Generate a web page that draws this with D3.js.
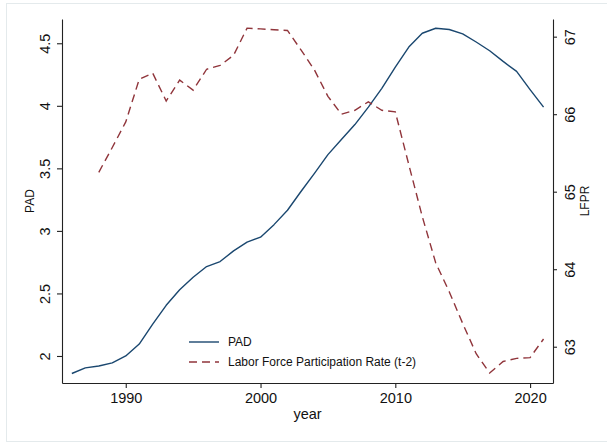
<!DOCTYPE html>
<html>
<head>
<meta charset="utf-8">
<script src="https://cdn.jsdelivr.net/npm/d3@7"></script>
<style>
  html, body { margin: 0; padding: 0; background: #fff; }
  svg { display: block; font-family: Arial, "Liberation Sans", Helvetica, sans-serif; }
</style>
</head>
<body>
<svg id="chart" width="607" height="443"></svg>
<script>
// Yearly series
const years = d3.range(1986, 2022);
const padValues = [
  1.86, 1.905, 1.92, 1.945, 2.0, 2.095, 2.255, 2.405, 2.53, 2.63,
  2.715, 2.755, 2.84, 2.91, 2.95, 3.05, 3.165, 3.315, 3.46, 3.61,
  3.73, 3.85, 3.99, 4.14, 4.31, 4.47, 4.58, 4.62, 4.61, 4.575,
  4.51, 4.44, 4.355, 4.275, 4.13, 3.99
];
// Labor force participation rate, lagged two years (first two years missing)
const lfprValues = [
  null, null, 65.25, 65.57, 65.9, 66.45, 66.53, 66.17, 66.44, 66.31,
  66.58, 66.63, 66.76, 67.11, 67.1, 67.09, 67.08, 66.83, 66.57, 66.23,
  66.0, 66.05, 66.16, 66.05, 66.03, 65.35, 64.68, 64.08, 63.71, 63.3,
  62.91, 62.66, 62.81, 62.85, 62.86, 63.1
];
const xTicks = [1990, 2000, 2010, 2020];
const padTicks = [2, 2.5, 3, 3.5, 4, 4.5];
const lfprTicks = [63, 64, 65, 66, 67];
const seriesNames = ["PAD", "Labor Force Participation Rate (t-2)"];

const navy = "#1a476f";
const maroon = "#90353b";
const axisColor = "#222";

const svg = d3.select("#chart");

const plotL = 62, plotR = 553, plotT = 19, plotB = 383;

const x = d3.scaleLinear().domain([1985.27, 2021.7]).range([plotL, plotR]);
const yPad = d3.scaleLinear().domain([1.784, 4.694]).range([plotB, plotT]);
const yLfpr = d3.scaleLinear().domain([62.532, 67.228]).range([plotB, plotT]);

// faint outer frame of the graph region
svg.append("rect")
  .attr("x", 6.5).attr("y", 3.5).attr("width", 620).attr("height", 438)
  .attr("fill", "none").attr("stroke", "#e4eaec").attr("stroke-width", 1);

// Axes
const xAxis = d3.axisBottom(x).tickValues(xTicks).tickFormat(d3.format("d"))
  .tickSize(5).tickSizeOuter(0).tickPadding(4);
const gx = svg.append("g").attr("transform", `translate(0,${plotB})`).call(xAxis);

const yAxisL = d3.axisLeft(yPad).tickValues(padTicks).tickFormat(d => String(d))
  .tickSize(5).tickSizeOuter(0);
const gyl = svg.append("g").attr("transform", `translate(${plotL},0)`).call(yAxisL);

const yAxisR = d3.axisRight(yLfpr).tickValues(lfprTicks).tickFormat(d3.format("d"))
  .tickSize(4).tickSizeOuter(0);
const gyr = svg.append("g").attr("transform", `translate(${plotR},0)`).call(yAxisR);

[gx, gyl, gyr].forEach(g => {
  g.select(".domain").attr("stroke", axisColor).attr("stroke-width", 1.1);
  g.selectAll(".tick line").attr("stroke", axisColor).attr("stroke-width", 1.1);
  g.selectAll(".tick text").attr("fill", "#111").attr("font-size", 14.5)
    .attr("font-family", "Arial, 'Liberation Sans', sans-serif");
});
gx.selectAll(".tick text").attr("dy", null).attr("y", 19.7);

// rotated y tick labels
gyl.selectAll(".tick text")
  .attr("x", null).attr("dy", null)
  .attr("text-anchor", "middle")
  .attr("transform", "translate(-12,0) rotate(-90)");
gyr.selectAll(".tick text")
  .attr("x", null).attr("dy", null)
  .attr("text-anchor", "middle")
  .attr("transform", "translate(22,0) rotate(-90)");

// Axis titles
svg.append("text").text("year")
  .attr("x", (plotL + plotR) / 2).attr("y", 419)
  .attr("text-anchor", "middle").attr("font-size", 14.5).attr("fill", "#111");
svg.append("text").text("PAD")
  .attr("transform", `translate(33.5,${(plotT + plotB) / 2}) rotate(-90)`)
  .attr("text-anchor", "middle").attr("font-size", 12).attr("fill", "#111");
svg.append("text").text("LFPR")
  .attr("transform", `translate(588.5,${(plotT + plotB) / 2}) rotate(-90)`)
  .attr("text-anchor", "middle").attr("font-size", 12).attr("fill", "#111");

// Lines
const padData = years.map((yr, i) => ({ yr, v: padValues[i] }));
const lfprData = years.map((yr, i) => ({ yr, v: lfprValues[i] }));

svg.append("path").datum(padData)
  .attr("fill", "none").attr("stroke", navy).attr("stroke-width", 1.4)
  .attr("stroke-linejoin", "round")
  .attr("d", d3.line().x(d => x(d.yr)).y(d => yPad(d.v)));

svg.append("path").datum(lfprData)
  .attr("fill", "none").attr("stroke", maroon).attr("stroke-width", 1.4)
  .attr("stroke-dasharray", "8,5")
  .attr("d", d3.line().defined(d => d.v != null).x(d => x(d.yr)).y(d => yLfpr(d.v)));

// Legend
const legend = svg.append("g");
const legendRows = [
  { name: seriesNames[0], color: navy, dash: null, y: 342 },
  { name: seriesNames[1], color: maroon, dash: "8,5", y: 362 }
];
legendRows.forEach(r => {
  legend.append("line")
    .attr("x1", 189).attr("x2", 219).attr("y1", r.y).attr("y2", r.y)
    .attr("stroke", r.color).attr("stroke-width", 1.4)
    .attr("stroke-dasharray", r.dash);
  legend.append("text").text(r.name)
    .attr("x", 228).attr("y", r.y).attr("dy", "0.36em")
    .attr("font-size", 12).attr("fill", "#111");
});
</script>
</body>
</html>
